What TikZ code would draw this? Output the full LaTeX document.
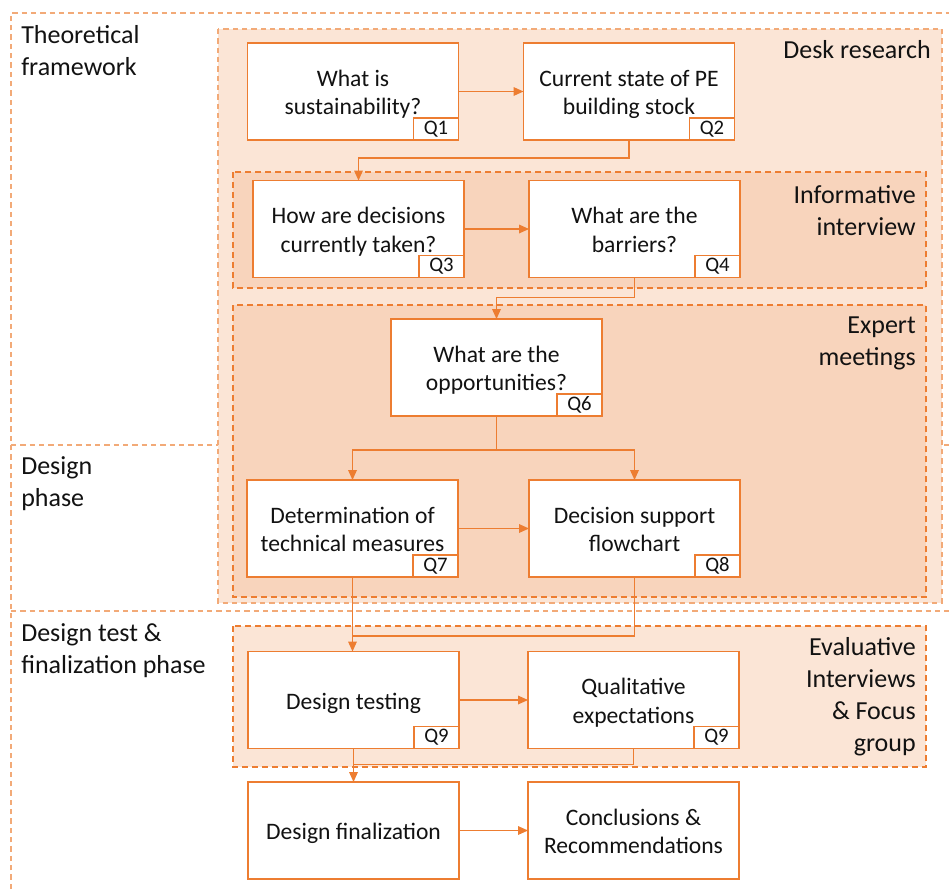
\documentclass[tikz,border=0pt]{standalone}
\usepackage{fontspec}
\setmainfont{Carlito}
\usetikzlibrary{arrows.meta}

\definecolor{accent}{RGB}{237,125,49}
\definecolor{framecol}{RGB}{242,170,120}
\definecolor{paleband}{RGB}{251,229,214}
\definecolor{deepband}{RGB}{248,212,188}
\definecolor{ink}{RGB}{18,18,18}

\newcommand\dgboxfont{\fontsize{17.7}{21.7}\selectfont}
\newcommand\dgtagfont{\fontsize{15.5}{18}\selectfont}
\newcommand\dglabelfont{\fontsize{19.5}{24}\selectfont}
% centred lines of a step box, with a little extra room above the first line
\newcommand\steplines[1]{\begin{tabular}{@{}c@{}}\rule{0pt}{20pt}#1\end{tabular}}

\begin{document}
\begin{tikzpicture}[x=0.75pt,y=-0.75pt,
  stepbox/.style={draw=accent,line width=1.1pt,fill=white,
    minimum width=158.25pt,minimum height=72.75pt,inner sep=0pt,outer sep=0pt,
    font=\dgboxfont,text=ink},
  qtag/.style={draw=accent,line width=1.1pt,fill=white,anchor=south east,
    minimum width=33.75pt,minimum height=16.5pt,inner sep=0pt,outer sep=0pt,
    font=\dgtagfont,text=ink},
  phase/.style={inner sep=0pt,font=\dglabelfont,text=ink},
  frameline/.style={draw=framecol,line width=1pt,dash pattern=on 4pt off 3pt},
  outerband/.style={draw=framecol,line width=1pt,dash pattern=on 4pt off 3pt,fill=paleband},
  innerband/.style={draw=accent,line width=1pt,dash pattern=on 4.5pt off 3pt,fill=deepband},
  evalband/.style={draw=accent,line width=1pt,dash pattern=on 4.5pt off 3pt,fill=paleband},
  link/.style={draw=accent,line width=0.9pt},
  arr/.style={draw=accent,line width=0.9pt,-{Triangle[length=7.5pt,width=6.5pt]}}
]
\useasboundingbox (0,0) rectangle (949,889);

% phase frame and dividers
\draw[frameline] (11,889) -- (11,13) -- (949,13);
\draw[frameline] (11,445) -- (949,445);
\draw[frameline] (11,611) -- (949,611);

% method bands
\draw[outerband] (218,29) rectangle (942,603);
\draw[innerband] (233,172) rectangle (926,288);
\draw[innerband] (233,305) rectangle (926,597);
\draw[evalband] (233,626) rectangle (926,767);

% phase labels
\node[phase,anchor=west,align=left] (lblTheory) at (21,51) {Theoretical\\framework};
\node[phase,anchor=west,align=left] (lblDesign) at (21,483.5) {Design\\phase};
\node[phase,anchor=west,align=left] (lblTest) at (21,650.5) {Design test \&\\finalization phase};

% method labels
\node[phase,anchor=east,align=right] (lblDesk) at (931,50) {Desk research};
\node[phase,anchor=east,align=right] (lblInfo) at (916,211) {Informative\\interview};
\node[phase,anchor=east,align=right] (lblExpert) at (916,343) {Expert\\meetings};
\node[phase,anchor=east,align=right] (lblEval) at (916,697) {Evaluative\\Interviews\\\& Focus\\group};

% research steps
\node[stepbox] (q1) at (353,91.5) {\steplines{What is\\sustainability?}};
\node[stepbox] (q2) at (629,91.5) {\steplines{Current state of PE\\building stock}};
\node[stepbox] (q3) at (358.5,229) {\steplines{How are decisions\\currently taken?}};
\node[stepbox] (q4) at (634.5,229) {\steplines{What are the\\barriers?}};
\node[stepbox] (q6) at (496.5,367.5) {\steplines{What are the\\opportunities?}};
\node[stepbox] (q7) at (352.5,528.5) {\steplines{Determination of\\technical measures}};
\node[stepbox] (q8) at (634.5,528.5) {\steplines{Decision support\\flowchart}};
\node[stepbox] (dt) at (353.5,700) {\steplines{Design testing}};
\node[stepbox] (qe) at (633.5,700) {\steplines{Qualitative\\expectations}};
\node[stepbox] (df) at (353.5,830.5) {\steplines{Design finalization}};
\node[stepbox] (cr) at (633.5,830.5) {\steplines{Conclusions \&\\Recommendations}};

% question tags
\node[qtag] (t1) at (q1.south east) {Q1};
\node[qtag] (t2) at (q2.south east) {Q2};
\node[qtag] (t3) at (q3.south east) {Q3};
\node[qtag] (t4) at (q4.south east) {Q4};
\node[qtag] (t6) at (q6.south east) {Q6};
\node[qtag] (t7) at (q7.south east) {Q7};
\node[qtag] (t8) at (q8.south east) {Q8};
\node[qtag] (t9a) at (dt.south east) {Q9};
\node[qtag] (t9b) at (qe.south east) {Q9};

% connectors
\draw[arr] (q1.east) -- (q2.west);
\draw[arr] (q2.south) -- ++(0,18) -| (q3.north);
\draw[arr] (q3.east) -- (q4.west);
\draw[arr] (q4.south) -- ++(0,20) -| (q6.north);
\draw[link] (q6.south) -- ++(0,34) coordinate (fork);
\draw[arr] (fork) -| (q7.north);
\draw[arr] (fork) -| (q8.north);
\draw[arr] (q7.east) -- (q8.west);
\draw[arr] (q7.south) -- (q7.south |- dt.north);
\draw[link] (q8.south) -- ++(0,59) coordinate (q8drop) -- (q8drop -| q7.south);
\draw[arr] (dt.east) -- (qe.west);
\draw[arr] (dt.south) -- (dt.south |- df.north);
\draw[link] (qe.south) -- ++(0,16) coordinate (qedrop) -- (qedrop -| dt.south);
\draw[arr] (df.east) -- (cr.west);
\end{tikzpicture}
\end{document}
